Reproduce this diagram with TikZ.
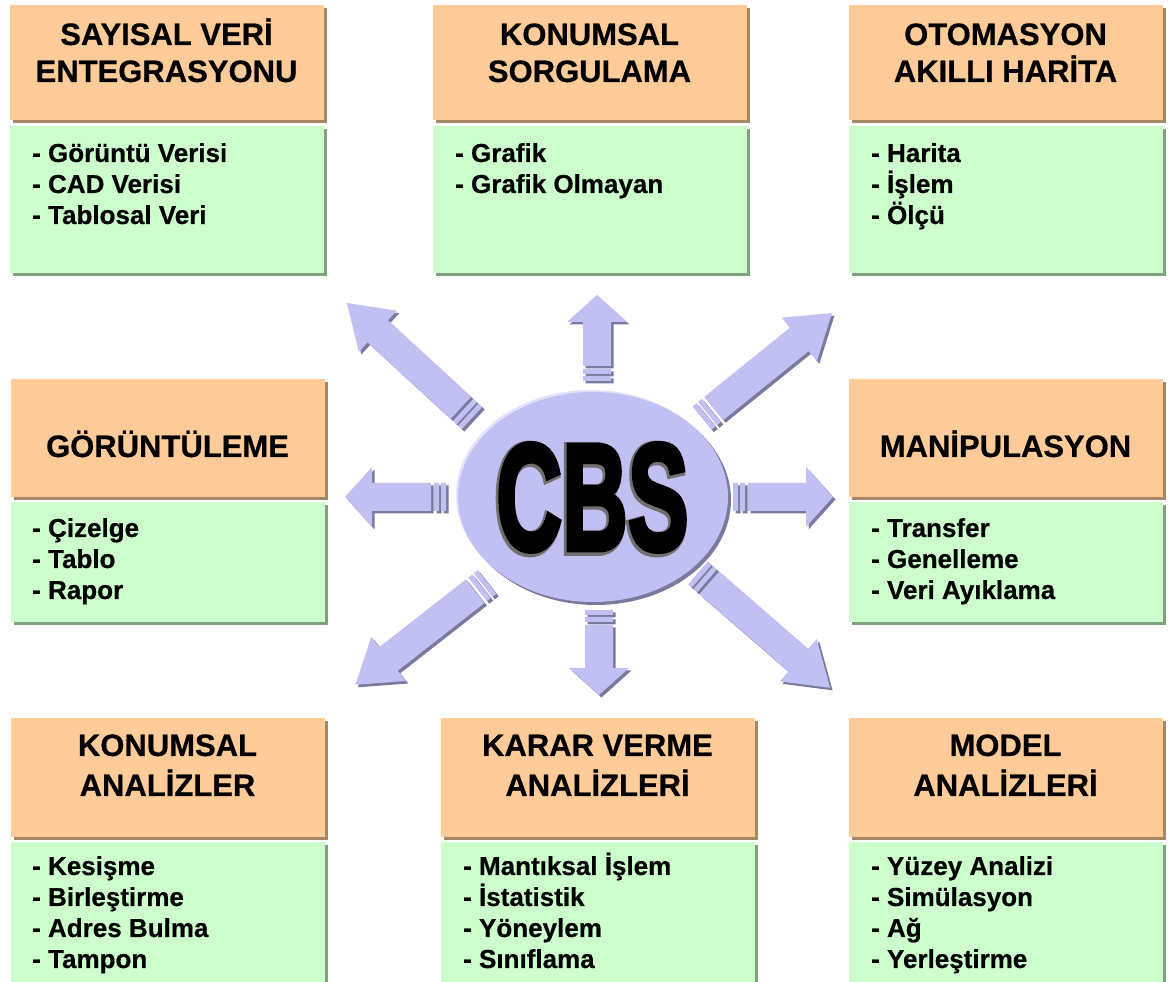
\documentclass[tikz,border=0pt]{standalone}
\usepackage{fontspec}
\setmainfont{Liberation Sans}[BoldFeatures={FakeBold=0.6}]
\newfontfamily\cbsfont[FakeBold=3.5]{Liberation Sans Bold}
\newfontfamily\cbsedgefont[FakeBold=6]{Liberation Sans Bold}
\usetikzlibrary{shapes.geometric,shadows}
\definecolor{boxorange}{HTML}{FFCC99}
\definecolor{boxgreen}{HTML}{CCFFCC}
\definecolor{oshadow}{HTML}{A58665}
\definecolor{gshadow}{HTML}{80A080}
\definecolor{lav}{HTML}{C0C0F2}
\definecolor{lavlight}{HTML}{E2E2FF}
\definecolor{lavshadow}{HTML}{7A7A9E}
\definecolor{cbsgrey}{HTML}{707070}
\tikzset{
  obox/.style={rectangle, fill=boxorange, inner sep=0pt, minimum width=314pt,
    drop shadow={shadow xshift=3pt, shadow yshift=-3pt, fill=oshadow, opacity=1}},
  gbox/.style={rectangle, fill=boxgreen, inner sep=0pt, minimum width=314pt,
    drop shadow={shadow xshift=3pt, shadow yshift=-3pt, fill=gshadow, opacity=1}},
  ttl/.style={anchor=base, inner sep=0pt, font=\fontsize{31}{37}\selectfont\bfseries},
  bodytxt/.style={anchor=base west, inner sep=0pt, font=\fontsize{26}{31}\selectfont\bfseries},
  arfill/.style={fill=lav},
  arshadow/.style={fill=lavshadow}
}
% panel: name, centre x, orange top, orange bottom, green top, green bottom (pixel rows)
\newcommand\panel[6]{%
  \node[obox, minimum height={#4-#3}] (#1t) at (#2, {982-(#3+#4)/2}) {};
  \node[gbox, minimum height={#6-#5}] (#1b) at (#2, {982-(#5+#6)/2}) {};
}
% items: name prefix, left x, first baseline (pixel row), list
\newcommand\items[4]{%
  \foreach \t [count=\i] in {#4}{\node[bodytxt] (#1\i) at (#2, {982-#3-31*(\i-1)}) {- \t};}
}
% block arrow: tail x, tail y (pixel row), angle, length
\newcommand\blockarrow[4]{%
  \foreach \off/\sty in {2.5/arshadow,0/arfill}{
    \fill[\sty, shift={(#1+\off,982-#2-\off)}, rotate=#3]
      (0,-\aw) rectangle (5,\aw)
      (7,-\aw) rectangle (12,\aw)
      (15,-\aw) -- (#4-\ahl,-\aw) -- (#4-\ahl,-\ahw) -- (#4,0)
      -- (#4-\ahl,\ahw) -- (#4-\ahl,\aw) -- (15,\aw) -- cycle;
  }
}
\begin{document}
\begin{tikzpicture}[x=1pt,y=1pt]
\useasboundingbox (0,0) rectangle (1171,982);
\fill[white] (0,0) rectangle (1171,982);
\clip (0,0) rectangle (1171,982);

% panels
\panel{p1}{166.5}{5}{120}{126}{273}
\panel{p2}{589.5}{5}{120}{126}{273}
\panel{p3}{1005.5}{5}{120}{126}{273}
\panel{p4}{167.5}{379}{497}{502}{622}
\panel{p5}{1005.5}{379}{497}{502}{622}
\panel{p6}{167.5}{718}{837}{842}{995}
\panel{p7}{597.5}{718}{837}{842}{995}
\panel{p8}{1005.5}{718}{837}{842}{995}

% titles
\node[ttl] (h1a) at (166.5,937) {SAYISAL VERİ};
\node[ttl] (h1b) at (166.5,900) {ENTEGRASYONU};
\node[ttl] (h2a) at (589.5,937) {KONUMSAL};
\node[ttl] (h2b) at (589.5,900) {SORGULAMA};
\node[ttl] (h3a) at (1005.5,937) {OTOMASYON};
\node[ttl] (h3b) at (1005.5,900) {AKILLI HARİTA};
\node[ttl] (h4) at (167.5,525) {GÖRÜNTÜLEME};
\node[ttl] (h5) at (1005.5,525) {MANİPULASYON};
\node[ttl] (h6a) at (167.5,226) {KONUMSAL};
\node[ttl] (h6b) at (167.5,186) {ANALİZLER};
\node[ttl] (h7a) at (597.5,226) {KARAR VERME};
\node[ttl] (h7b) at (597.5,186) {ANALİZLERİ};
\node[ttl] (h8a) at (1005.5,226) {MODEL};
\node[ttl] (h8b) at (1005.5,186) {ANALİZLERİ};

% item lists
\items{i1-}{32}{162}{Görüntü Verisi,CAD Verisi,Tablosal Veri}
\items{i2-}{455}{162}{Grafik,Grafik Olmayan}
\items{i3-}{871}{162}{Harita,İşlem,Ölçü}
\items{i4-}{32}{537}{Çizelge,Tablo,Rapor}
\items{i5-}{871}{537}{Transfer,Genelleme,Veri Ayıklama}
\items{i6-}{32}{875}{Kesişme,Birleştirme,Adres Bulma,Tampon}
\items{i7-}{463}{875}{Mantıksal İşlem,İstatistik,Yöneylem,Sınıflama}
\items{i8-}{871}{875}{Yüzey Analizi,Simülasyon,Ağ,Yerleştirme}

% arrows: straight ones
\def\aw{14}\def\ahw{30}\def\ahl{27}
\blockarrow{446}{497}{180}{101}
\blockarrow{733}{497}{0}{100}
\blockarrow{597}{381}{90}{86}
\blockarrow{599}{610}{-90}{85}
% diagonal ones
\def\aw{15}\def\ahw{28}\def\ahl{42}
\blockarrow{472}{418}{137.4}{170}
\blockarrow{702}{418}{38.9}{167}
\blockarrow{487}{582}{218}{167}
\blockarrow{698}{573}{-41}{175}

% central ellipse
\fill[lavlight] (591,{982-495}) ellipse [x radius=135, y radius=105];
\node[ellipse, fill=lav, inner sep=0pt, minimum width=270pt, minimum height=210pt,
  drop shadow={shadow xshift=3pt, shadow yshift=-3pt, fill=lavshadow, opacity=1}]
  (cbs) at (593,{982-497}) {};
\node[inner sep=0pt, text=cbsgrey] (cbsedge) at (591,{982-499})
  {\scalebox{0.6}[1]{\fontsize{152}{152}\selectfont\cbsedgefont CBS}};
\node[inner sep=0pt, text=black] (cbstext) at (592.5,{982-497.5})
  {\scalebox{0.6}[1]{\fontsize{152}{152}\selectfont\cbsfont CBS}};
\end{tikzpicture}
\end{document}
